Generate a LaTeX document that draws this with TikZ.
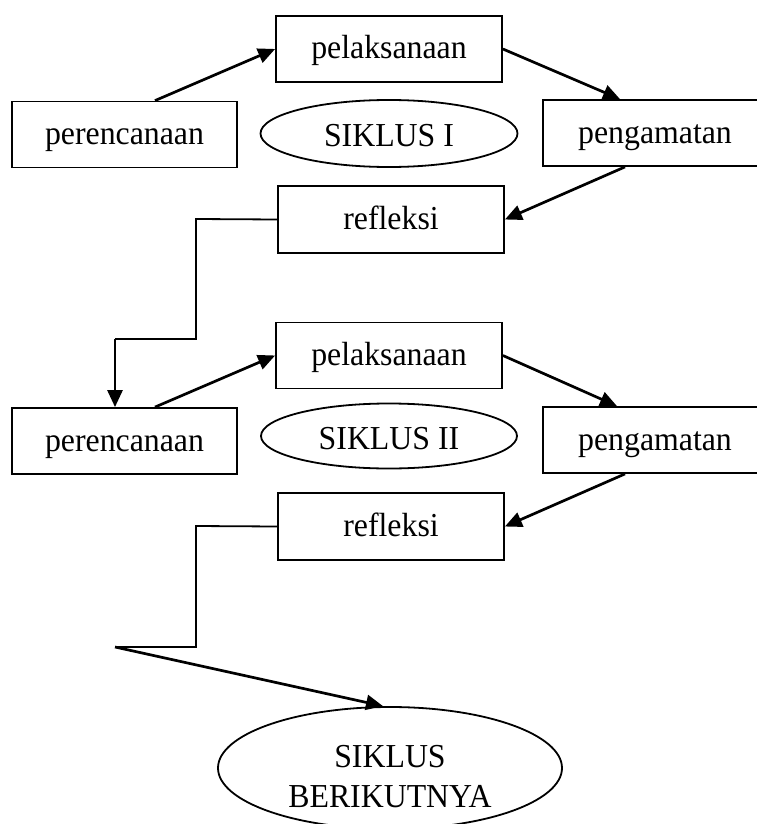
\documentclass[tikz,border=0pt]{standalone}
\usepackage{fontspec}
\setmainfont[FakeStretch=0.95]{Liberation Serif}
\usetikzlibrary{arrows.meta,shapes.geometric}
\begin{document}
\begin{tikzpicture}[x=1pt,y=-1pt,
  box/.style={draw,line width=1.8pt,minimum height=66pt,inner sep=0pt,text height=25pt,text depth=5pt,font=\fontsize{33.5}{40}\selectfont},
  oval/.style={draw,ellipse,line width=1.8pt,inner sep=0pt,text height=28pt,text depth=2pt,font=\fontsize{33.5}{40}\selectfont},
  bigoval/.style={draw,ellipse,line width=1.8pt,inner sep=0pt,align=center,font=\fontsize{33.5}{40}\selectfont},
  arr/.style={line width=2.7pt,-{Triangle[length=17pt,width=15pt]}},
  link/.style={line width=1.8pt}]
\clip (0,0) rectangle (757,824);
% cycle I
\node[box,minimum width=226pt] (pel1) at (389,49) {pelaksanaan};
\node[box,minimum width=225pt] (per1) at (124.5,134.5) {perencanaan};
\node[oval,minimum width=257pt,minimum height=67pt] (sik1) at (389,133.5) {SIKLUS I};
\node[box,minimum width=224pt] (pen1) at (655,133) {pengamatan};
\node[box,minimum width=226pt,minimum height=67pt] (ref1) at (391,219.5) {refleksi};
% cycle II
\node[box,minimum width=226pt] (pel2) at (389,355.5) {pelaksanaan};
\node[box,minimum width=225pt] (per2) at (124.5,441) {perencanaan};
\node[oval,minimum width=256pt,minimum height=65pt] (sik2) at (389,436) {SIKLUS II};
\node[box,minimum width=224pt] (pen2) at (655,440) {pengamatan};
\node[box,minimum width=226pt,minimum height=67pt] (ref2) at (391,526.5) {refleksi};
% next
\node[bigoval,minimum width=344pt,minimum height=122pt] (sik3) at (390,768) {\rule{0pt}{40pt}SIKLUS\\BERIKUTNYA};
\coordinate (c1) at (196,219);
\coordinate (c2) at (196,339);
\coordinate (c3) at (115,339);
\coordinate (d1) at (196,526);
\coordinate (d2) at (196,647);
\coordinate (d3) at (115,647);
% arrows
\draw[arr] ([xshift=30.5pt]per1.north) -- (pel1.west);
\draw[arr] (pel1.east) -- ([xshift=-35pt]pen1.north);
\draw[arr] ([xshift=-30pt]pen1.south) -- (ref1.east);
\draw[link] (ref1.west) -- (c1) -- (c2) -- (c3);
\draw[arr] (c3) -- ([xshift=-9.5pt]per2.north);
\draw[arr] ([xshift=30.5pt]per2.north) -- (pel2.west);
\draw[arr] (pel2.east) -- ([xshift=-38pt]pen2.north);
\draw[arr] ([xshift=-30pt]pen2.south) -- (ref2.east);
\draw[link] (ref2.west) -- (d1) -- (d2) -- (d3);
\draw[arr] (d3) -- ([xshift=-7pt]sik3.north);
\end{tikzpicture}
\end{document}
